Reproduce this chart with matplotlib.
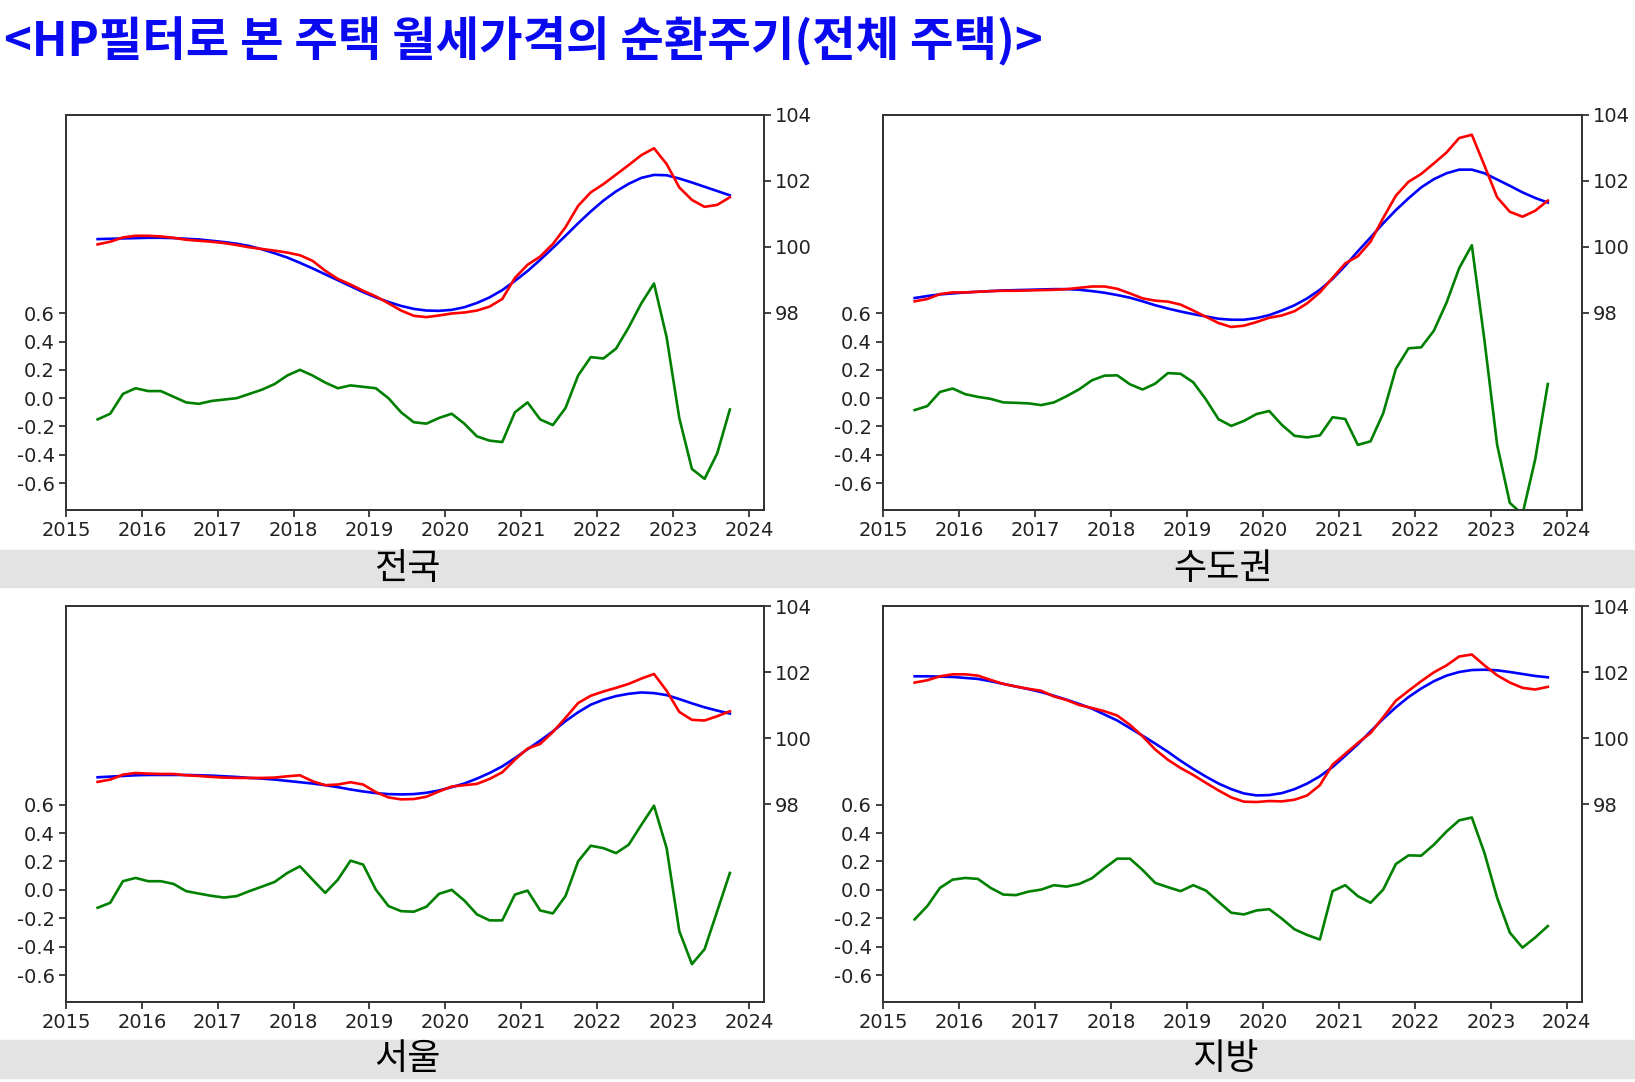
import matplotlib
matplotlib.use("Agg")
import matplotlib.pyplot as plt
from matplotlib.patches import Rectangle
import pandas as pd

plt.rcParams['axes.unicode_minus'] = False

title = "<HP필터로 본 주택 월세가격의 순환주기(전체 주택)>"
regions = ["전국", "수도권", "서울", "지방"]

# monthly series, sampled every 2 months from 2015-06 to 2023-10
months = pd.date_range("2015-06-01", "2023-10-01", freq="2MS")
years = months.year + (months.month - 1) / 12

# cycle component (left axis)
nat_cycle = [-0.15, -0.11, 0.03, 0.07, 0.05, 0.05, 0.01, -0.03, -0.04, -0.02,
             -0.01, 0.00, 0.03, 0.06, 0.10, 0.16, 0.20, 0.16, 0.11, 0.07,
             0.09, 0.08, 0.07, 0.00, -0.10, -0.17, -0.18, -0.14, -0.11, -0.18,
             -0.27, -0.30, -0.31, -0.10, -0.03, -0.15, -0.19, -0.07, 0.16, 0.29,
             0.28, 0.35, 0.50, 0.67, 0.81, 0.43, -0.14, -0.50, -0.57, -0.39, -0.08]
cap_cycle = [-0.084, -0.056, 0.044, 0.068, 0.028, 0.009, -0.005, -0.030, -0.033, -0.037,
             -0.049, -0.030, 0.014, 0.063, 0.126, 0.159, 0.161, 0.098, 0.061, 0.103,
             0.177, 0.172, 0.112, -0.009, -0.149, -0.196, -0.161, -0.112, -0.091, -0.189,
             -0.266, -0.277, -0.263, -0.135, -0.147, -0.33, -0.305, -0.107, 0.207, 0.352,
             0.359, 0.476, 0.674, 0.918, 1.08, 0.406, -0.33, -0.74, -0.82, -0.434, 0.10]
seoul_cycle = [-0.126, -0.091, 0.061, 0.084, 0.061, 0.061, 0.042, -0.009, -0.026, -0.042,
               -0.054, -0.044, -0.009, 0.023, 0.056, 0.119, 0.166, 0.072, -0.021, 0.072,
               0.206, 0.178, 0.002, -0.114, -0.150, -0.154, -0.119, -0.028, 0.0, -0.075,
               -0.173, -0.215, -0.215, -0.033, -0.005, -0.145, -0.166, -0.044, 0.201, 0.311,
               0.294, 0.259, 0.318, 0.458, 0.593, 0.294, -0.290, -0.523, -0.418, -0.150, 0.119]
local_cycle = [-0.208, -0.114, 0.014, 0.072, 0.084, 0.077, 0.014, -0.033, -0.037, -0.012,
               0.002, 0.033, 0.023, 0.042, 0.082, 0.154, 0.220, 0.220, 0.140, 0.049,
               0.019, -0.009, 0.033, -0.005, -0.084, -0.161, -0.173, -0.145, -0.136, -0.203,
               -0.278, -0.318, -0.35, -0.009, 0.033, -0.044, -0.091, 0.002, 0.182, 0.243,
               0.241, 0.318, 0.411, 0.49, 0.51, 0.259, -0.056, -0.301, -0.407, -0.336, -0.255]

# rent price index (right axis)
nat_index = [100.07, 100.15, 100.28, 100.33, 100.33, 100.31, 100.27, 100.21, 100.18, 100.15,
             100.11, 100.05, 99.98, 99.93, 99.88, 99.82, 99.74, 99.57, 99.27, 99.02,
             98.85, 98.66, 98.49, 98.28, 98.06, 97.90, 97.86, 97.91, 97.97, 98.00,
             98.06, 98.18, 98.41, 99.05, 99.45, 99.70, 100.08, 100.59, 101.24, 101.65,
             101.90, 102.19, 102.48, 102.78, 102.99, 102.51, 101.80, 101.42, 101.21, 101.27, 101.50]
cap_index = [98.34, 98.41, 98.56, 98.61, 98.61, 98.63, 98.65, 98.66, 98.66, 98.67,
             98.68, 98.69, 98.71, 98.75, 98.79, 98.79, 98.72, 98.58, 98.43, 98.36,
             98.33, 98.24, 98.06, 97.87, 97.68, 97.56, 97.60, 97.71, 97.84, 97.91,
             98.04, 98.28, 98.61, 99.05, 99.49, 99.71, 100.15, 100.87, 101.55, 101.97,
             102.21, 102.53, 102.86, 103.30, 103.40, 102.46, 101.50, 101.06, 100.91, 101.09, 101.40]
seoul_index = [98.67, 98.74, 98.89, 98.94, 98.92, 98.91, 98.91, 98.87, 98.85, 98.82,
               98.80, 98.79, 98.79, 98.79, 98.80, 98.84, 98.87, 98.69, 98.57, 98.59,
               98.66, 98.59, 98.36, 98.20, 98.14, 98.15, 98.22, 98.38, 98.53, 98.57,
               98.61, 98.76, 98.96, 99.34, 99.68, 99.82, 100.18, 100.61, 101.06, 101.28,
               101.41, 101.52, 101.64, 101.80, 101.94, 101.43, 100.79, 100.55, 100.53, 100.66, 100.81]
local_index = [101.68, 101.75, 101.87, 101.93, 101.93, 101.89, 101.76, 101.64, 101.56, 101.49,
               101.43, 101.26, 101.15, 101.00, 100.91, 100.81, 100.68, 100.40, 100.05, 99.65,
               99.34, 99.09, 98.88, 98.64, 98.41, 98.20, 98.07, 98.06, 98.09, 98.08,
               98.13, 98.26, 98.57, 99.19, 99.52, 99.85, 100.15, 100.63, 101.13, 101.43,
               101.72, 101.99, 102.20, 102.47, 102.53, 102.20, 101.90, 101.68, 101.52, 101.47, 101.55]

# HP trend (right axis)
nat_trend = [100.23, 100.24, 100.25, 100.26, 100.27, 100.27, 100.26, 100.24, 100.22, 100.18,
             100.14, 100.09, 100.02, 99.92, 99.80, 99.67, 99.51, 99.34, 99.16, 98.98,
             98.80, 98.62, 98.46, 98.32, 98.20, 98.11, 98.06, 98.05, 98.08, 98.16,
             98.29, 98.46, 98.68, 98.96, 99.26, 99.60, 99.96, 100.33, 100.71, 101.07,
             101.40, 101.68, 101.91, 102.09, 102.18, 102.17, 102.07, 101.95, 101.82, 101.69, 101.56]
cap_trend = [98.44, 98.50, 98.55, 98.58, 98.61, 98.63, 98.65, 98.67, 98.68, 98.69,
             98.70, 98.71, 98.71, 98.69, 98.65, 98.60, 98.53, 98.45, 98.34, 98.22,
             98.12, 98.03, 97.95, 97.88, 97.81, 97.78, 97.78, 97.83, 97.92, 98.06,
             98.22, 98.43, 98.69, 99.02, 99.42, 99.86, 100.28, 100.71, 101.11, 101.47,
             101.80, 102.05, 102.23, 102.34, 102.34, 102.23, 102.04, 101.85, 101.65, 101.48, 101.34]
seoul_trend = [98.81, 98.83, 98.85, 98.87, 98.88, 98.88, 98.88, 98.88, 98.87, 98.86,
               98.84, 98.82, 98.79, 98.77, 98.74, 98.70, 98.66, 98.62, 98.57, 98.51,
               98.44, 98.38, 98.33, 98.30, 98.29, 98.30, 98.34, 98.41, 98.51, 98.62,
               98.77, 98.94, 99.14, 99.39, 99.66, 99.92, 100.20, 100.51, 100.78, 101.01,
               101.16, 101.27, 101.34, 101.38, 101.36, 101.30, 101.18, 101.05, 100.93, 100.83, 100.74]
local_trend = [101.87, 101.87, 101.86, 101.85, 101.82, 101.79, 101.72, 101.64, 101.56, 101.48,
               101.39, 101.28, 101.16, 101.03, 100.89, 100.71, 100.53, 100.30, 100.07, 99.83,
               99.58, 99.31, 99.06, 98.83, 98.62, 98.45, 98.32, 98.26, 98.27, 98.33,
               98.45, 98.62, 98.84, 99.12, 99.46, 99.81, 100.20, 100.58, 100.93, 101.24,
               101.50, 101.72, 101.89, 102.00, 102.06, 102.07, 102.05, 102.00, 101.94, 101.88, 101.84]

cycles = [nat_cycle, cap_cycle, seoul_cycle, local_cycle]
indexes = [nat_index, cap_index, seoul_index, local_index]
trends = [nat_trend, cap_trend, seoul_trend, local_trend]

year_ticks = list(range(2015, 2025))
left_ticks = [-0.6, -0.4, -0.2, 0.0, 0.2, 0.4, 0.6]
right_ticks = [98, 100, 102, 104]

W, H = 1635, 1082
fig = plt.figure(figsize=(W / 100, H / 100), dpi=100)
kr = ['Noto Sans CJK KR', 'DejaVu Sans']

# axes boxes in pixels: left, top, right, bottom
boxes = [(66, 115, 764, 510), (883, 115, 1582, 510),
         (66, 606, 764, 1002), (883, 606, 1582, 1002)]
label_x = [407, 1223, 407, 1225]
bands = [(550, 587), (1040, 1078)]

for y0, y1 in bands:
    fig.patches.append(Rectangle((0, 1 - y1 / H), 1, (y1 - y0) / H,
                                 transform=fig.transFigure, color='#e3e3e3', zorder=0))

for i in range(4):
    l, t, r, b = boxes[i]
    ax = fig.add_axes([l / W, 1 - b / H, (r - l) / W, (b - t) / H])
    ax2 = ax.twinx()
    ax.plot(years, cycles[i], color='green', lw=1.9)
    ax2.plot(years, trends[i], color='blue', lw=1.9)
    ax2.plot(years, indexes[i], color='red', lw=1.9)
    ax.set_xlim(2015, 2024.2)
    ax.set_ylim(-0.79, 2.0)
    ax2.set_ylim(92, 104)
    ax.set_xticks(year_ticks)
    ax.set_xticklabels([str(y) for y in year_ticks])
    ax.set_yticks(left_ticks)
    ax.set_yticklabels([f"{v:.1f}" for v in left_ticks])
    ax2.set_yticks(right_ticks)
    ax2.set_yticklabels([str(v) for v in right_ticks])
    for a in (ax, ax2):
        a.tick_params(labelsize=14, colors='#222222', length=5, width=1.2, pad=3)
        for s in a.spines.values():
            s.set_linewidth(1.3)
            s.set_color('#333333')
    lb = bands[i // 2]
    fig.text(label_x[i] / W, 1 - (lb[0] + lb[1]) / 2 / H, regions[i],
             ha='center', va='center', fontsize=26, family=kr, color='black')

fig.text(4 / W, 1 - 42 / H, title, ha='left', va='center', fontsize=34,
         fontweight='bold', family=kr, color='#0a0af0')

plt.savefig("out.png", dpi=100)
